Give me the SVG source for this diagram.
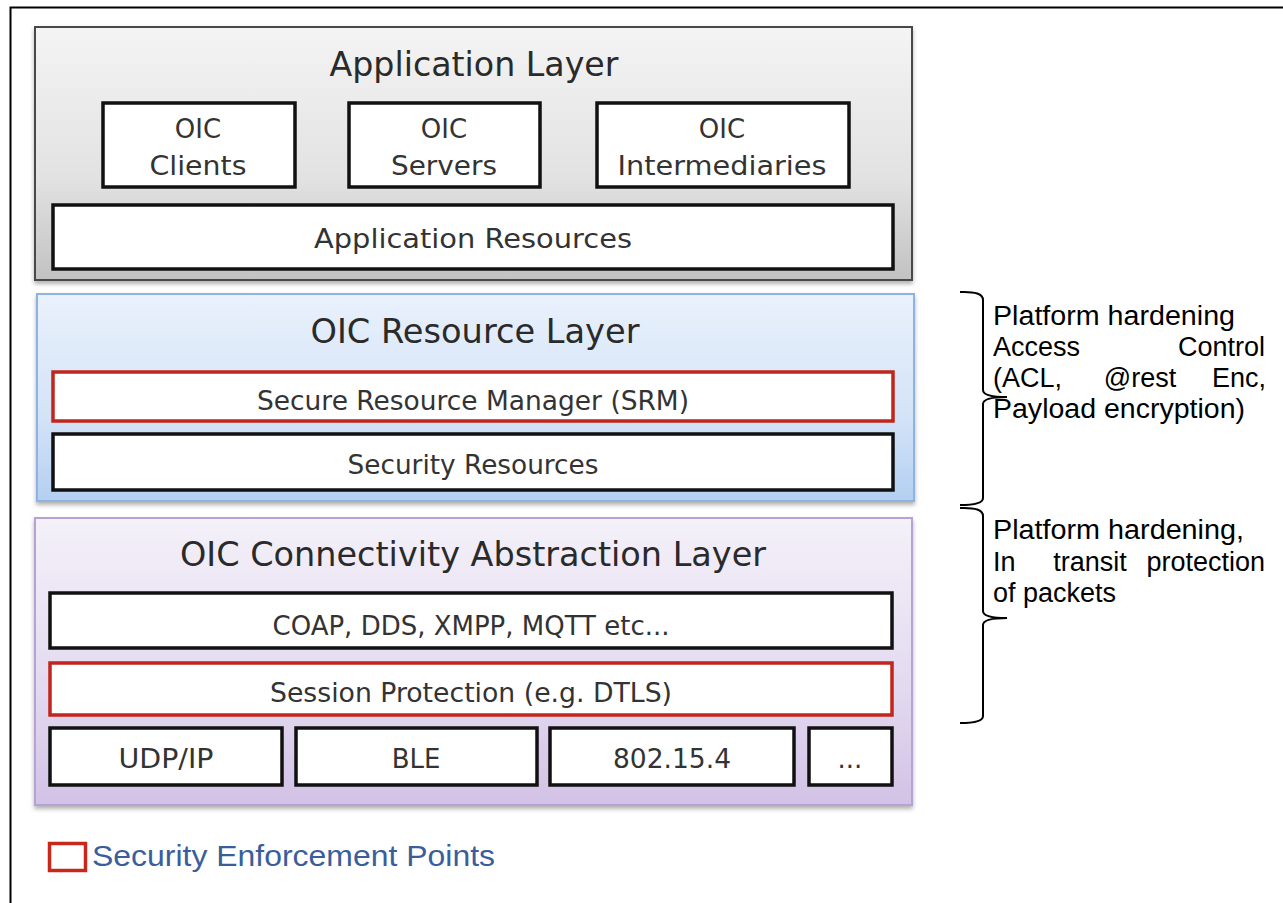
<svg xmlns="http://www.w3.org/2000/svg" width="1283" height="903" viewBox="0 0 1283 903">
<style>
.title{font-family:"DejaVu Sans",Verdana,sans-serif;font-size:33px;fill:#2a2a2a;text-anchor:middle}
.lbl{font-family:"DejaVu Sans",Verdana,sans-serif;font-size:26px;fill:#333;text-anchor:middle}
.box{fill:#fff;stroke:#111;stroke-width:3.5}
.red{fill:#fff;stroke:#c0261b;stroke-width:3.5}
.note{font-family:"Liberation Sans",Arial,sans-serif;font-size:27px;fill:#000}
.brace{fill:none;stroke:#000;stroke-width:2}
</style>
<defs>
<linearGradient id="gApp" x1="0" y1="0" x2="0" y2="1"><stop offset="0" stop-color="#f4f4f4"/><stop offset="0.6" stop-color="#e2e2e2"/><stop offset="1" stop-color="#c2c2c2"/></linearGradient>
<linearGradient id="gRes" x1="0" y1="0" x2="0" y2="1"><stop offset="0" stop-color="#e9f1fc"/><stop offset="0.6" stop-color="#d3e3f7"/><stop offset="1" stop-color="#b4cff1"/></linearGradient>
<linearGradient id="gCon" x1="0" y1="0" x2="0" y2="1"><stop offset="0" stop-color="#f4f1f9"/><stop offset="0.6" stop-color="#e3d9f0"/><stop offset="1" stop-color="#d2c2e6"/></linearGradient>
<filter id="sh" x="-5%" y="-5%" width="110%" height="115%"><feDropShadow dx="0" dy="3" stdDeviation="2" flood-color="#000" flood-opacity="0.3"/></filter>
</defs>
<rect width="1283" height="903" fill="#fff"/>
<rect x="10.5" y="7.5" width="1300" height="920" fill="none" stroke="#000" stroke-width="2"/>

<g id="application-layer">
<rect x="35" y="27" width="877" height="253" fill="url(#gApp)" stroke="#4a4a4a" stroke-width="2" filter="url(#sh)"/>
<text class="title" x="474" y="76" textLength="289" lengthAdjust="spacingAndGlyphs">Application Layer</text>
</g>
<g id="oic-clients">
<rect class="box" x="103" y="103" width="192" height="84"/>
<text class="lbl" x="198" y="138">OIC</text>
<text class="lbl" x="198" y="175" textLength="97" lengthAdjust="spacingAndGlyphs">Clients</text>
</g>
<g id="oic-servers">
<rect class="box" x="349" y="103" width="191" height="84"/>
<text class="lbl" x="444" y="138">OIC</text>
<text class="lbl" x="444" y="175" textLength="106" lengthAdjust="spacingAndGlyphs">Servers</text>
</g>
<g id="oic-intermediaries">
<rect class="box" x="597" y="103" width="252" height="84"/>
<text class="lbl" x="722" y="138">OIC</text>
<text class="lbl" x="722" y="175" textLength="209" lengthAdjust="spacingAndGlyphs">Intermediaries</text>
</g>
<g id="application-resources">
<rect class="box" x="53" y="205" width="840" height="64"/>
<text class="lbl" x="473" y="248" textLength="318" lengthAdjust="spacingAndGlyphs">Application Resources</text>
</g>

<g id="resource-layer">
<rect x="37" y="294" width="877" height="207" fill="url(#gRes)" stroke="#8db3e2" stroke-width="2" filter="url(#sh)"/>
<text class="title" x="475" y="343" textLength="329" lengthAdjust="spacingAndGlyphs">OIC Resource Layer</text>
</g>
<g id="srm">
<rect class="red" x="53" y="372" width="840" height="49"/>
<text class="lbl" x="473" y="410" textLength="432" lengthAdjust="spacingAndGlyphs">Secure Resource Manager (SRM)</text>
</g>
<g id="security-resources">
<rect class="box" x="53" y="434" width="840" height="56"/>
<text class="lbl" x="473" y="474" textLength="251" lengthAdjust="spacingAndGlyphs">Security Resources</text>
</g>

<g id="connectivity-layer">
<rect x="35" y="518" width="877" height="287" fill="url(#gCon)" stroke="#b7a3d3" stroke-width="2" filter="url(#sh)"/>
<text class="title" x="473" y="566" textLength="586" lengthAdjust="spacingAndGlyphs">OIC Connectivity Abstraction Layer</text>
</g>
<g id="protocols">
<rect class="box" x="50" y="593" width="842" height="55"/>
<text class="lbl" x="471" y="635" textLength="397" lengthAdjust="spacingAndGlyphs">COAP, DDS, XMPP, MQTT etc...</text>
</g>
<g id="session-protection">
<rect class="red" x="50" y="663" width="842" height="52"/>
<text class="lbl" x="471" y="702" textLength="402" lengthAdjust="spacingAndGlyphs">Session Protection (e.g. DTLS)</text>
</g>
<g id="udp-ip">
<rect class="box" x="50" y="728" width="232" height="57"/>
<text class="lbl" x="166" y="768" textLength="95" lengthAdjust="spacingAndGlyphs">UDP/IP</text>
</g>
<g id="ble">
<rect class="box" x="296" y="728" width="241" height="57"/>
<text class="lbl" x="416" y="768">BLE</text>
</g>
<g id="ieee-802-15-4">
<rect class="box" x="550" y="728" width="244" height="57"/>
<text class="lbl" x="672" y="768" textLength="118" lengthAdjust="spacingAndGlyphs">802.15.4</text>
</g>
<g id="more">
<rect class="box" x="809" y="728" width="83" height="57"/>
<text class="lbl" x="850" y="768">...</text>
</g>

<g id="connectors">
<path class="brace" d="M960,292 Q983,291 983,300 L983,390 Q983,397 1007,397 Q983,397 983,404 L983,498 Q983,505 960,505"/>
<path class="brace" d="M960,508 Q983,507 983,516 L983,611 Q983,618 1007,618 Q983,618 983,625 L983,716 Q983,723 960,723"/>
</g>

<g id="note-resource">
<text class="note" x="993" y="325" textLength="242" lengthAdjust="spacingAndGlyphs">Platform hardening</text>
<text class="note" x="993" y="356">Access</text>
<text class="note" x="1265" y="356" text-anchor="end">Control</text>
<text class="note" x="993" y="387">(ACL,</text>
<text class="note" x="1140" y="387" text-anchor="middle">@rest</text>
<text class="note" x="1266" y="387" text-anchor="end">Enc,</text>
<text class="note" x="993" y="418" textLength="252" lengthAdjust="spacingAndGlyphs">Payload encryption)</text>
</g>
<g id="note-connectivity">
<text class="note" x="993" y="539" textLength="251" lengthAdjust="spacingAndGlyphs">Platform hardening,</text>
<text class="note" x="993" y="571">In</text>
<text class="note" x="1090" y="571" text-anchor="middle">transit</text>
<text class="note" x="1265" y="571" text-anchor="end">protection</text>
<text class="note" x="993" y="602">of packets</text>
</g>

<g id="legend">
<rect x="49.5" y="843.5" width="36" height="27" fill="#fff" stroke="#c8281c" stroke-width="3.5"/>
<text x="92" y="866" font-family="Liberation Sans, Arial, sans-serif" font-size="30" fill="#3a5e9c" textLength="403" lengthAdjust="spacingAndGlyphs">Security Enforcement Points</text>
</g>
</svg>
